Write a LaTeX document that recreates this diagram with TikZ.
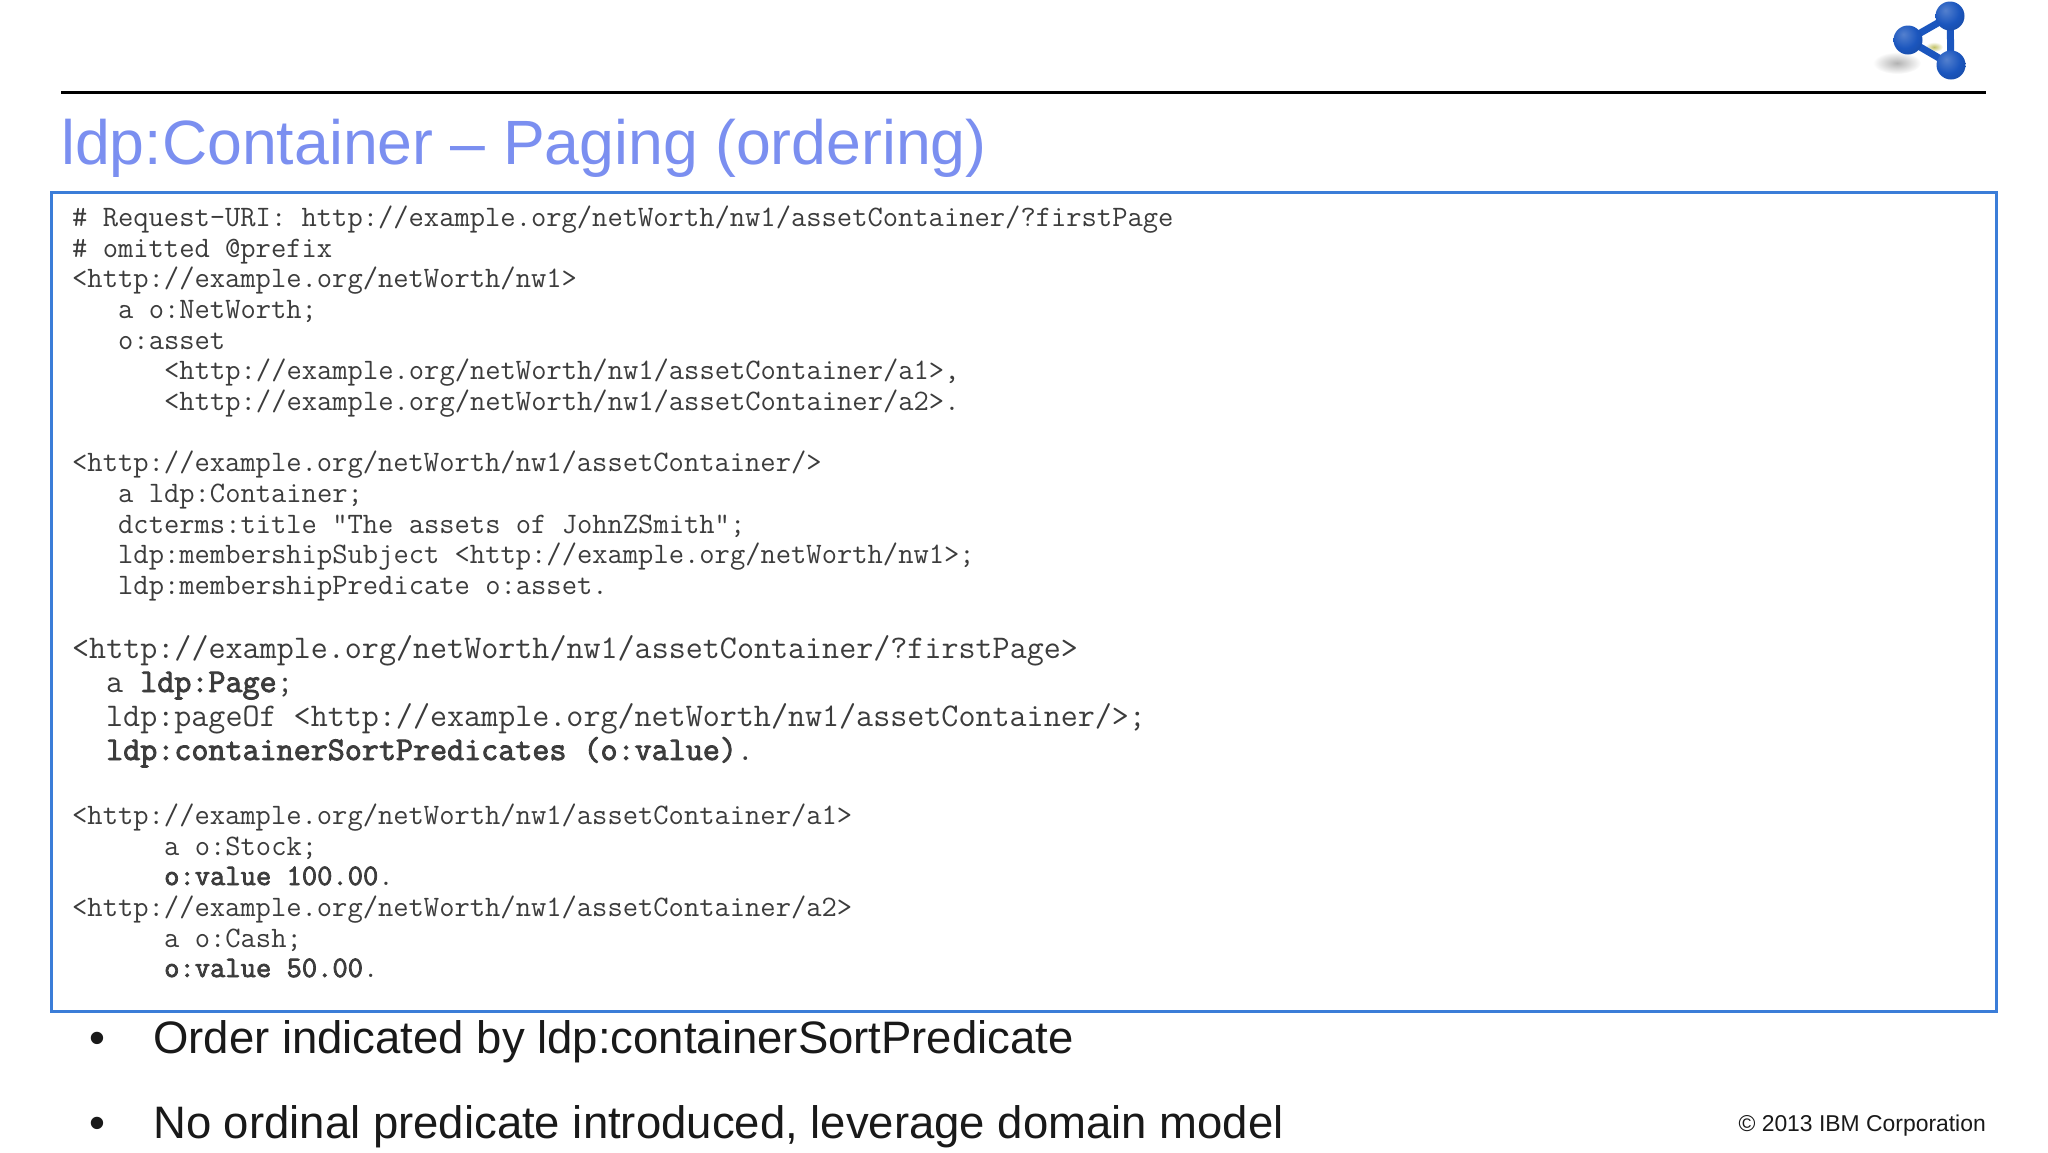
\documentclass[tikz,border=0pt]{standalone}
\usepackage{fontspec}
\setmainfont{Liberation Sans}
\setmonofont[BoldFont={Latin Modern Mono},BoldFeatures={FakeBold=2.6}]{Latin Modern Mono}
\definecolor{titleblue}{HTML}{7B8FF0}
\definecolor{boxblue}{HTML}{3B7DD8}
\definecolor{codegray}{HTML}{3C3C3C}
\definecolor{ballblue}{HTML}{1B56BE}
\pgfdeclareradialshading{ballshade}{\pgfpoint{-8bp}{10bp}}{%
  color(0bp)=(ballblue!75!white); color(22bp)=(ballblue); color(45bp)=(ballblue!80!black); color(100bp)=(ballblue!80!black)}
\tikzset{
  code/.style={anchor=base west, inner sep=0, text=codegray, font=\fontsize{29.7}{30}\selectfont\ttfamily},
  bigcode/.style={code, font=\fontsize{33.1}{34}\selectfont\ttfamily},
  bullet/.style={anchor=base west, inner sep=0, text=black!90, font=\fontsize{45.5}{50}\selectfont},
  ball/.style={circle, minimum size=29pt, inner sep=0, shading=ballshade},
}
\begin{document}
\begin{tikzpicture}[x=1pt,y=-1pt]
\useasboundingbox (0,0) rectangle (2048,1152);

\draw[line width=3pt] (61,92) -- (1986,92);
\node[anchor=base west, inner sep=0, text=titleblue, font=\fontsize{62.6}{66}\selectfont] (title) at (61,164) {ldp:Container -- Paging (ordering)};

% logo
\shade[inner color=black!30, outer color=white] (1897,63) ellipse (24pt and 11pt);
\shade[inner color=black!40!yellow!60!white, outer color=white] (1934,47) ellipse (9pt and 5pt);
\coordinate (balltop) at (1950,16);
\coordinate (ballleft) at (1908,40);
\coordinate (ballbottom) at (1951,65);
\draw[ballblue, line width=7pt] (balltop) -- (ballleft) -- (ballbottom) -- cycle;
\node[ball] (ball1) at (balltop) {};
\node[ball] (ball2) at (ballleft) {};
\node[ball] (ball3) at (ballbottom) {};

\draw[boxblue, line width=3pt] (51,192) rectangle (1996,1011);

\node[code] (l1) at (72,226) {\# Request-URI: http://example.org/netWorth/nw1/assetContainer/?firstPage};
\node[code] (l2) at (72,257) {\# omitted @prefix};
\node[code] (l3) at (72,287) {<http://example.org/netWorth/nw1>};
\node[code] (l4) at (118,318) {a o:NetWorth;};
\node[code] (l5) at (118,349) {o:asset};
\node[code] (l6) at (164,379) {<http://example.org/netWorth/nw1/assetContainer/a1>,};
\node[code] (l7) at (164,410) {<http://example.org/netWorth/nw1/assetContainer/a2>.};

\node[code] (l8) at (72,471) {<http://example.org/netWorth/nw1/assetContainer/>};
\node[code] (l9) at (118,502) {a ldp:Container;};
\node[code] (l10) at (118,533) {dcterms:title "The assets of JohnZSmith";};
\node[code] (l11) at (118,563) {ldp:membershipSubject <http://example.org/netWorth/nw1>;};
\node[code] (l12) at (118,594) {ldp:membershipPredicate o:asset.};

\node[bigcode] (m1) at (72,658) {<http://example.org/netWorth/nw1/assetContainer/?firstPage>};
\node[bigcode] (m2) at (106,692) {a \textbf{ldp:Page};};
\node[bigcode] (m3) at (106,726) {ldp:pageOf <http://example.org/netWorth/nw1/assetContainer/>;};
\node[bigcode] (m4) at (106,760) {\textbf{ldp:containerSortPredicates (o:value)}.};

\node[code] (n1) at (72,824) {<http://example.org/netWorth/nw1/assetContainer/a1>};
\node[code] (n2) at (164,855) {a o:Stock;};
\node[code] (n3) at (164,885) {\textbf{o:value 100.00}.};
\node[code] (n4) at (72,916) {<http://example.org/netWorth/nw1/assetContainer/a2>};
\node[code] (n5) at (164,947) {a o:Cash;};
\node[code] (n6) at (164,977) {\textbf{o:value 50.00}.};

\node[bullet] (dot1) at (89,1053) {•};
\node[bullet] (item1) at (153,1053) {Order indicated by ldp:containerSortPredicate};
\node[bullet] (dot2) at (89,1138) {•};
\node[bullet] (item2) at (153,1138) {No ordinal predicate introduced, leverage domain model};

\node[anchor=base east, inner sep=0, text=black!90, font=\fontsize{22.9}{26}\selectfont] (copy) at (1986,1131) {© 2013 IBM Corporation};
\end{tikzpicture}
\end{document}
